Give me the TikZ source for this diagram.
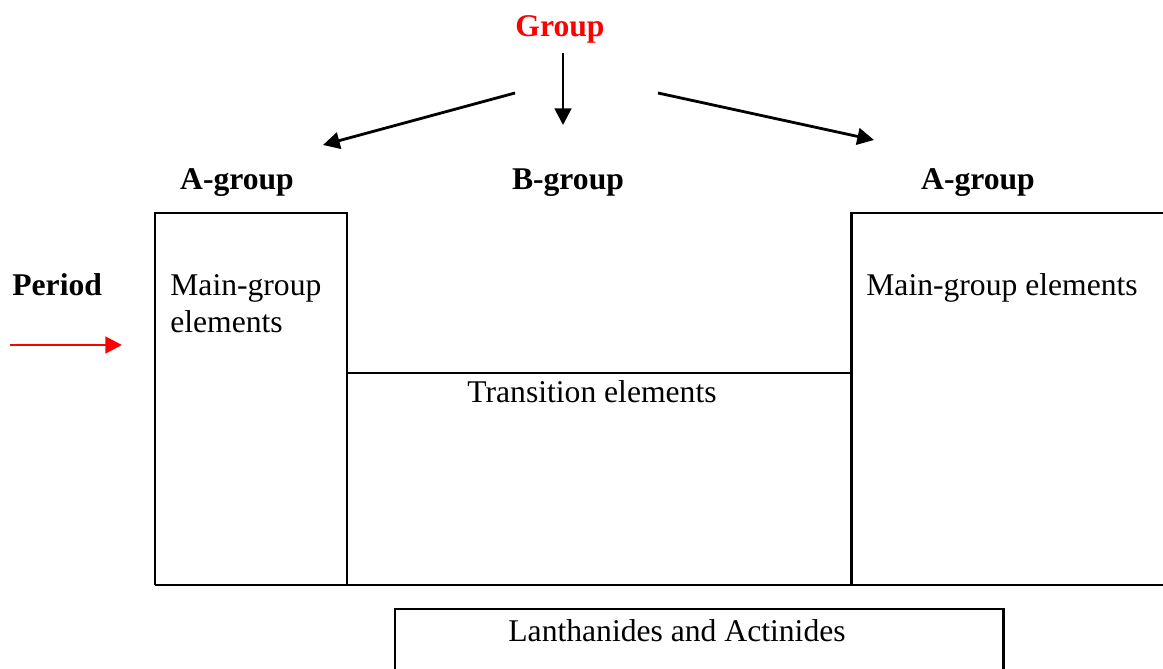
\documentclass[tikz,border=0pt]{standalone}
\usepackage{fontspec}
\setmainfont{Liberation Serif}
\usetikzlibrary{arrows.meta}
\tikzset{
  lbl/.style={inner sep=0pt, anchor=base, font=\fontsize{18}{21}\selectfont},
  blbl/.style={lbl, font=\fontsize{18}{21}\selectfont\bfseries},
  frame/.style={line width=1.7pt},
  arr/.style={line width=1.6pt, -{Triangle[length=9.5pt,width=9.5pt]}}
}
\begin{document}
\begin{tikzpicture}[x=0.02cm,y=-0.02cm]
\useasboundingbox (0,0) rectangle (1163,669);
% labels
\node[blbl, text=red] (group) at (560,37) {Group};
\node[blbl] (ag1) at (237,190) {A-group};
\node[blbl] (bg) at (568,190) {B-group};
\node[blbl] (ag2) at (978,190) {A-group};
\node[blbl, anchor=base west] (period) at (12,295) {Period};
\node[lbl, anchor=base west, align=left] (mg1) at (170,332) {Main-group\\elements};
\node[lbl, anchor=base west] (mg2) at (866,295) {Main-group elements};
\node[lbl] (trans) at (592,402) {Transition elements};
\node[lbl] (lanth) at (677,641) {Lanthanides and Actinides};
% arrow coordinates
\coordinate (gs) at (563,53);
\coordinate (ge) at (563,125);
\coordinate (ls) at (515,93);
\coordinate (le) at (323,145);
\coordinate (rs) at (658,93);
\coordinate (re) at (874,140);
\coordinate (ps) at (10,345);
\coordinate (pe) at (122,345);
\draw[arr] (gs) -- (ge);
\draw[arr] (ls) -- (le);
\draw[arr] (rs) -- (re);
\draw[arr, red] (ps) -- (pe);
% frames
\coordinate (b1) at (155,585);
\coordinate (b2) at (155,213);
\coordinate (b3) at (347,213);
\coordinate (b4) at (347,585);
\coordinate (b5) at (347,373);
\coordinate (b6) at (851,373);
\coordinate (b7) at (851,585);
\coordinate (b8) at (851,213);
\coordinate (b9) at (1163,213);
\coordinate (b10) at (1163,585);
\draw[frame] (b1) -- (b2) -- (b3) -- (b4);
\draw[frame] (b5) -- (b6);
\draw[frame] (b7) -- (b8) -- (b9);
\draw[frame] (b1) -- (b10);
\coordinate (l1) at (395,669);
\coordinate (l2) at (395,609);
\coordinate (l3) at (1003,609);
\coordinate (l4) at (1003,669);
\draw[frame] (l1) -- (l2) -- (l3) -- (l4);
\end{tikzpicture}
\end{document}
